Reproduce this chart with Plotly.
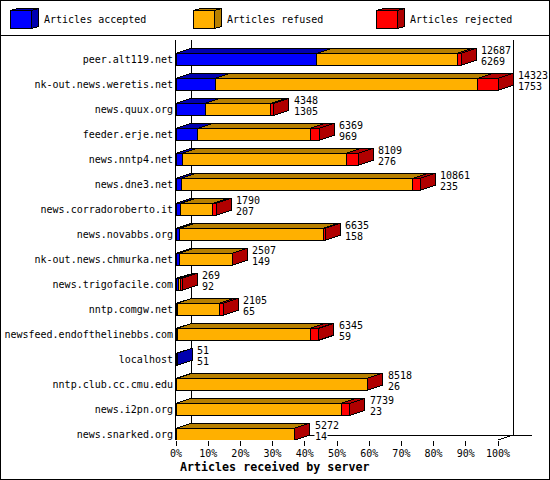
import plotly.graph_objects as go

servers = ['peer.alt119.net', 'nk-out.news.weretis.net', 'news.quux.org', 'feeder.erje.net',
           'news.nntp4.net', 'news.dne3.net', 'news.corradoroberto.it', 'news.novabbs.org',
           'nk-out.news.chmurka.net', 'news.trigofacile.com', 'nntp.comgw.net',
           'newsfeed.endofthelinebbs.com', 'localhost', 'nntp.club.cc.cmu.edu',
           'news.i2pn.org', 'news.snarked.org']
total = [12687, 14323, 4348, 6369, 8109, 10861, 1790, 6635, 2507, 269, 2105, 6345, 51, 8518, 7739, 5272]
accepted = [6269, 1753, 1305, 969, 276, 235, 207, 158, 149, 92, 65, 59, 51, 26, 23, 14]
refused = [6240, 11679, 2909, 5013, 7298, 10299, 1436, 6387, 2343, 110, 1862, 5916, 0, 8482, 7329, 5253]
rejected = [178, 891, 134, 387, 535, 327, 147, 90, 15, 67, 178, 370, 0, 10, 387, 5]

pct_ticks = [0, 10, 20, 30, 40, 50, 60, 70, 80, 90, 100]
series_names = ['Articles accepted', 'Articles refused', 'Articles rejected']
front_colors = ['#0000ff', '#ffb000', '#ff0000']
dark_colors = ['#0000b0', '#b88000', '#b00000']

FONT = 'DejaVu Sans Mono'
W, H = 550, 480
L, R, T, B = 176, 18, 40, 40
plot_w = W - L - R
plot_h = H - T - B
scale_px = 322  # pixels from 0% to 100%
row_px = 25

top_n = max(total)
per_px = top_n / scale_px
depth_x = 15 * per_px
depth_y = 5 / row_px
y_top = -0.772
y_bottom = 15.228
x_end = plot_w * per_px
rows = list(range(len(servers)))


def px(x):
    return (x - L) / plot_w


def py(y):
    return 1 - (y - T) / plot_h


fig = go.Figure()

# front faces
series = [accepted, refused, rejected]
starts = [0] * len(servers)
segments = []
for k, values in enumerate(series):
    ys = [r for r in rows if values[r] > 0]
    xs = [values[r] for r in ys]
    base = [starts[r] for r in ys]
    fig.add_trace(go.Bar(x=xs, y=ys, base=base, orientation='h', width=12 / row_px,
                         name=series_names[k], cliponaxis=False, showlegend=False,
                         marker=dict(color=front_colors[k], line=dict(color='black', width=1))))
    segments.append([(r, starts[r], starts[r] + values[r]) for r in ys])
    for r in ys:
        starts[r] += values[r]

half = 6 / row_px

# top faces and right side faces, dark colour of each series
for k in range(3):
    xs, ys = [], []
    for r, x0, x1 in segments[k]:
        xs += [x0, x0 + depth_x, x1 + depth_x, x1, x0, None]
        ys += [r - half, r - half - depth_y, r - half - depth_y, r - half, r - half, None]
        if x1 == total[r]:
            xs += [x1, x1 + depth_x, x1 + depth_x, x1, x1, None]
            ys += [r - half, r - half - depth_y, r + half - depth_y, r + half, r - half, None]
    fig.add_trace(go.Scatter(x=xs, y=ys, mode='lines', fill='toself', fillcolor=dark_colors[k],
                             line=dict(color='black', width=1), cliponaxis=False,
                             showlegend=False, hoverinfo='skip'))

# bottom axis line and the little diagonal left of it
fig.add_trace(go.Scatter(x=[-depth_x, 0, top_n, top_n + depth_x],
                         y=[y_bottom + depth_y, y_bottom, y_bottom, y_bottom - depth_y],
                         mode='lines', line=dict(color='black', width=1), cliponaxis=False,
                         showlegend=False, hoverinfo='skip'))

line = dict(color='black', width=1)
shapes = [
    dict(type='line', xref='x', yref='y', layer='below', line=line,
         x0=depth_x, x1=depth_x, y0=y_top, y1=y_bottom - depth_y),
    dict(type='line', xref='x', yref='y', layer='below', line=line,
         x0=top_n + depth_x, x1=top_n + depth_x, y0=y_top, y1=y_bottom - depth_y),
    dict(type='line', xref='x', yref='y', layer='below', line=line,
         x0=depth_x, x1=x_end, y0=y_bottom - depth_y, y1=y_bottom - depth_y),
    dict(type='rect', xref='paper', yref='paper', line=line,
         x0=px(0.5), x1=px(549.5), y0=py(0.5), y1=py(479.5)),
    dict(type='line', xref='paper', yref='paper', line=line,
         x0=px(0), x1=px(550), y0=py(35.5), y1=py(35.5)),
]

annotations = []


def text(x, y, s, anchor='left', size=10, bold=False):
    annotations.append(dict(xref='paper', yref='paper', x=px(x), y=py(y), text=s, showarrow=False,
                            xanchor=anchor, yanchor='middle',
                            font=dict(family=FONT, size=size, color='black',
                                      weight='bold' if bold else 'normal')))


def poly(points, color):
    path = 'M ' + ' L '.join(f'{px(a):.5f} {py(b):.5f}' for a, b in points) + ' Z'
    shapes.append(dict(type='path', xref='paper', yref='paper', path=path,
                       fillcolor=color, line=line))


# legend boxes
legend_x = [10.5, 193.5, 376.5]
for k in range(3):
    x0 = legend_x[k]
    poly([(x0, 10.5), (x0 + 7, 8.5), (x0 + 28, 8.5), (x0 + 21, 10.5)], dark_colors[k])
    poly([(x0 + 21, 10.5), (x0 + 28, 8.5), (x0 + 28, 26.5), (x0 + 21, 28.5)], dark_colors[k])
    poly([(x0, 10.5), (x0 + 21, 10.5), (x0 + 21, 28.5), (x0, 28.5)], front_colors[k])
    text(x0 + 31.5, 20, series_names[k])

text(274, 467, 'Articles received by server', anchor='center', size=11.67, bold=True)

# numbers at the end of each bar
for r in rows:
    for value, shift in ((total[r], 9.3), (accepted[r], -1.7)):
        annotations.append(dict(xref='x', yref='y', x=total[r] + depth_x, y=r, text=str(value),
                                showarrow=False, xanchor='left', yanchor='middle',
                                xshift=4, yshift=shift, bgcolor='white', borderpad=0,
                                font=dict(family=FONT, size=10, color='black')))

fig.update_layout(
    width=W, height=H, autosize=False,
    margin=dict(l=L, r=R, t=T, b=B, pad=0),
    paper_bgcolor='white', plot_bgcolor='white',
    barmode='overlay',
    shapes=shapes, annotations=annotations,
    font=dict(family=FONT, size=10, color='black'),
    xaxis=dict(range=[0, x_end], automargin=False, showgrid=False, zeroline=False, showline=False,
               tickmode='array', tickvals=[p * top_n / 100 for p in pct_ticks],
               ticktext=[f'{p}%' for p in pct_ticks], ticks='outside', ticklen=5,
               tickwidth=1, tickcolor='black', tickangle=0, ticklabelstandoff=-1),
    yaxis=dict(range=[y_bottom, y_top], automargin=False, showgrid=False, zeroline=False, showline=True,
               linecolor='black', linewidth=1, tickmode='array', tickvals=rows,
               ticktext=servers, ticks='', tickangle=0),
)

# the original has hard pixel edges, no smoothing on the lines
post = """document.body.style.margin='0';document.body.style.overflow='hidden';
var st=document.createElement('style');
st.textContent='.js-plotly-plot svg path{shape-rendering:crispEdges !important}';
document.head.appendChild(st);"""
fig.write_html("out.html", config={'displayModeBar': False}, post_script=post)
